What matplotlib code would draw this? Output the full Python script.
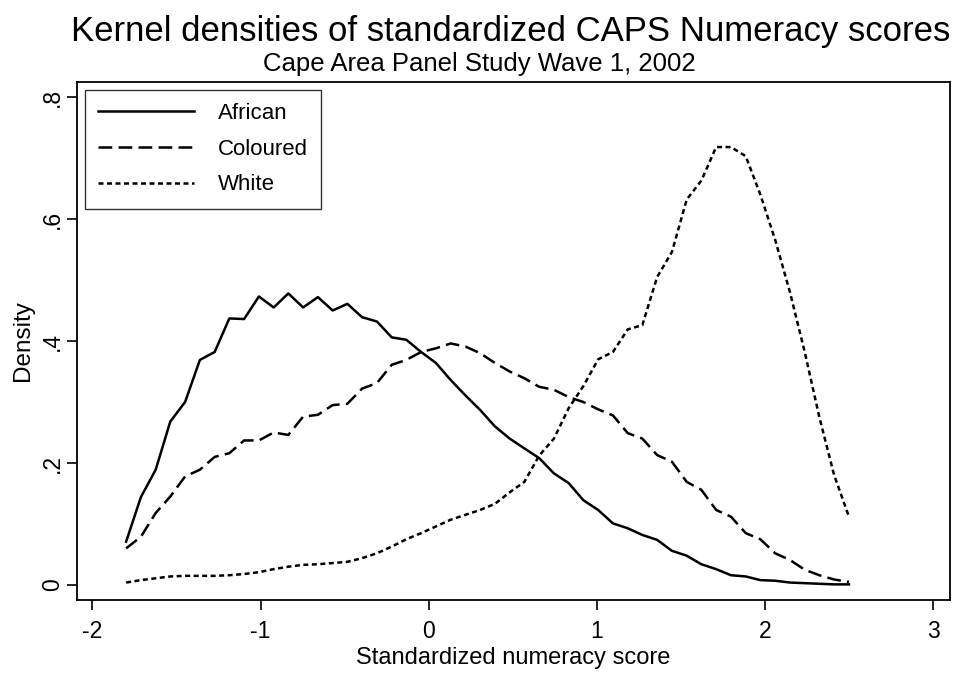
import matplotlib
matplotlib.use('Agg')
import matplotlib.pyplot as plt

plt.rcParams['font.family'] = ['Liberation Sans', 'DejaVu Sans']

# grid of evaluation points (standardized score)
x = [-1.800, -1.712, -1.624, -1.537, -1.449, -1.361, -1.273, -1.186, -1.098, -1.010,
     -0.922, -0.835, -0.747, -0.659, -0.571, -0.484, -0.396, -0.308, -0.220, -0.133,
     -0.045, 0.043, 0.131, 0.218, 0.306, 0.394, 0.482, 0.569, 0.657, 0.745,
     0.833, 0.920, 1.008, 1.096, 1.184, 1.271, 1.359, 1.447, 1.535, 1.622,
     1.710, 1.798, 1.886, 1.973, 2.061, 2.149, 2.237, 2.324, 2.412, 2.500]

african = [0.071, 0.144, 0.189, 0.268, 0.300, 0.369, 0.382, 0.437, 0.436, 0.473,
           0.455, 0.478, 0.455, 0.472, 0.450, 0.461, 0.439, 0.432, 0.406, 0.402,
           0.382, 0.364, 0.336, 0.311, 0.287, 0.260, 0.240, 0.224, 0.208, 0.183,
           0.167, 0.139, 0.123, 0.101, 0.093, 0.082, 0.074, 0.056, 0.048, 0.034,
           0.026, 0.016, 0.014, 0.008, 0.007, 0.004, 0.003, 0.002, 0.001, 0.001]

coloured = [0.060, 0.079, 0.118, 0.145, 0.178, 0.189, 0.210, 0.216, 0.237, 0.237,
            0.250, 0.246, 0.276, 0.279, 0.295, 0.297, 0.322, 0.331, 0.361, 0.369,
            0.382, 0.388, 0.396, 0.391, 0.380, 0.364, 0.350, 0.339, 0.325, 0.320,
            0.308, 0.300, 0.288, 0.278, 0.249, 0.240, 0.213, 0.202, 0.169, 0.156,
            0.123, 0.112, 0.085, 0.075, 0.052, 0.041, 0.025, 0.016, 0.009, 0.005]

white = [0.004, 0.008, 0.011, 0.014, 0.015, 0.015, 0.015, 0.016, 0.018, 0.021,
         0.026, 0.030, 0.033, 0.034, 0.036, 0.038, 0.044, 0.052, 0.063, 0.075,
         0.085, 0.096, 0.107, 0.115, 0.123, 0.133, 0.152, 0.169, 0.212, 0.240,
         0.290, 0.326, 0.370, 0.382, 0.419, 0.426, 0.505, 0.546, 0.632, 0.663,
         0.718, 0.718, 0.703, 0.640, 0.566, 0.480, 0.382, 0.275, 0.180, 0.112]

xticks = [-2, -1, 0, 1, 2, 3]
yticks = [0, 0.2, 0.4, 0.6, 0.8]
ytick_labels = ['0', '.2', '.4', '.6', '.8']

fig = plt.figure(figsize=(9.59, 6.74), dpi=100)
ax = fig.add_axes([0.0803, 0.1098, 0.9103, 0.7685])

ax.plot(x, african, color='black', lw=1.8, linestyle='-', label='African')
ax.plot(x, coloured, color='black', lw=1.8, linestyle=(0, (5.5, 2.5)), label='Coloured')
ax.plot(x, white, color='black', lw=1.8, linestyle=(0, (2.0, 1.4)), label='White')

ax.set_xlim(-2.092, 3.101)
ax.set_ylim(-0.0246, 0.8246)
ax.set_xticks(xticks)
ax.set_xticklabels([str(t) for t in xticks])
ax.set_yticks(yticks)
ax.set_yticklabels(ytick_labels, rotation=90, va='center')
ax.tick_params(axis='both', direction='out', length=7.2, width=1.2, labelsize=16.5, colors='black')
ax.tick_params(axis='x', pad=7)
ax.tick_params(axis='y', pad=2)
for s in ax.spines.values():
    s.set_linewidth(1.3)
    s.set_color('black')

ax.set_xlabel('Standardized numeracy score', fontsize=17, labelpad=3)
ax.set_ylabel('Density', fontsize=17.5)
ax.yaxis.set_label_coords(-0.049, 0.5)

fig.text(0.532, 0.953, 'Kernel densities of standardized CAPS Numeracy scores',
         ha='center', va='center', fontsize=25)
fig.text(0.4995, 0.905, 'Cape Area Panel Study Wave 1, 2002',
         ha='center', va='center', fontsize=18.5)

leg = ax.legend(loc='upper left', fontsize=16, frameon=True, fancybox=False,
                edgecolor='black', handlelength=4.3, borderpad=0.6,
                labelspacing=0.66, handletextpad=1.1, borderaxespad=0.35)
leg.get_frame().set_linewidth(1.0)

fig.savefig('out.png', dpi=100)
